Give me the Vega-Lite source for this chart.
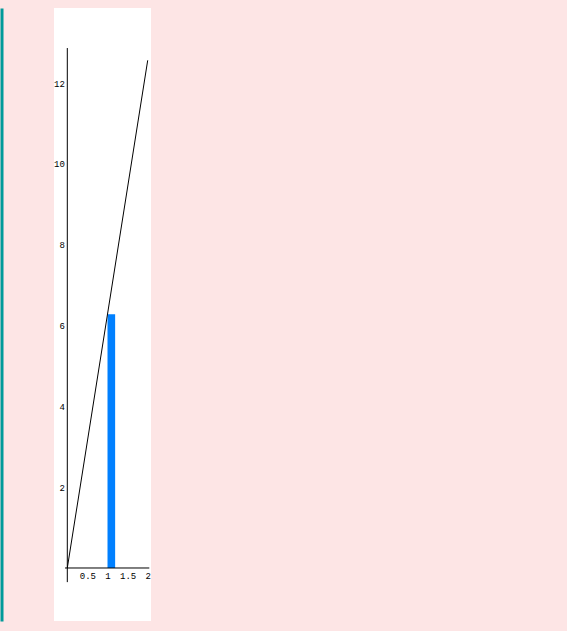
{
  "$schema": "https://vega.github.io/schema/vega-lite/v6.json",
  "background": "#FDE5E5",
  "padding": {"left": 54, "top": 8, "right": 416, "bottom": 10},
  "autosize": {"type": "none"},
  "width": 97,
  "height": 613,
  "view": {"fill": "white", "stroke": null},
  "datasets": {
    "bars": [{"x": 1, "x2": 1.19, "y": 6.283, "y0": 0}],
    "fn": [{"x": 0, "y": 0}, {"x": 2, "y": 12.566}],
    "axes": [
      {"x": -0.057, "x2": 2.04, "y": 0, "y2": 0},
      {"x": 0, "x2": 0, "y": -0.35, "y2": 12.87}
    ]
  },
  "layer": [
    {
      "data": {"name": "bars"},
      "mark": {"type": "rect", "color": "#0080FF"},
      "encoding": {
        "x": {
          "field": "x",
          "type": "quantitative",
          "scale": {"domain": [-0.331, 2.082], "nice": false, "zero": false},
          "axis": {
            "values": [0.5, 1, 1.5, 2],
            "format": "~g",
            "offset": -53,
            "domain": false,
            "ticks": false,
            "grid": false,
            "labelPadding": 3,
            "labelFont": "Liberation Mono",
            "labelFontSize": 9,
            "labelColor": "black",
            "title": null
          }
        },
        "x2": {"field": "x2"},
        "y": {
          "field": "y",
          "type": "quantitative",
          "scale": {"domain": [-1.312, 13.861], "nice": false, "zero": false},
          "axis": {
            "orient": "left",
            "values": [2, 4, 6, 8, 10, 12],
            "offset": -13.3,
            "domain": false,
            "ticks": false,
            "grid": false,
            "labelPadding": 3,
            "labelFont": "Liberation Mono",
            "labelFontSize": 9,
            "labelColor": "black",
            "title": null
          }
        },
        "y2": {"field": "y0"}
      }
    },
    {
      "data": {"name": "fn"},
      "mark": {"type": "line", "color": "black", "strokeWidth": 1},
      "encoding": {
        "x": {"field": "x", "type": "quantitative", "axis": null},
        "y": {
          "field": "y",
          "type": "quantitative",
          "axis": {
            "orient": "left",
            "offset": 52.5,
            "domain": true,
            "domainColor": "#009A9A",
            "domainWidth": 3,
            "labels": false,
            "ticks": false,
            "grid": false,
            "title": null
          }
        }
      }
    },
    {
      "data": {"name": "axes"},
      "mark": {"type": "rule", "color": "black", "strokeWidth": 1},
      "encoding": {
        "x": {"field": "x", "type": "quantitative", "axis": null},
        "x2": {"field": "x2"},
        "y": {"field": "y", "type": "quantitative", "axis": null},
        "y2": {"field": "y2"}
      }
    }
  ],
  "resolve": {"axis": {"y": "independent", "x": "independent"}}
}
